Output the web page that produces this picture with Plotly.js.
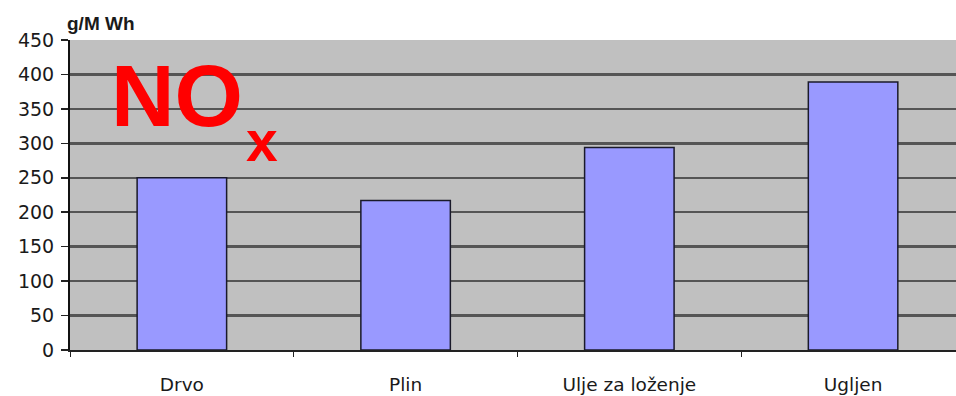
<!DOCTYPE html>
<html><head><meta charset="utf-8">
<script src="https://cdn.plot.ly/plotly-3.0.1.min.js"></script>
<style>html,body{margin:0;padding:0;background:#fff}#c{width:956px;height:396px}</style>
</head><body><div id="c"></div>
<script>
const categories = ["Drvo", "Plin", "Ulje za loženje", "Ugljen"];
const values = [250, 217, 294, 389];
const yTicks = [0, 50, 100, 150, 200, 250, 300, 350, 400, 450];
const gridTicks = [50, 100, 150, 200, 250, 300, 350, 400];
const unitLabel = "g/M Wh";

const font = "DejaVu Sans, Liberation Sans, Arial, sans-serif";
const afont = "Liberation Sans, Arial, sans-serif";
const trace = {
  type: "bar", x: categories, y: values,
  marker: {color: "#9999ff", line: {color: "#1a1a2a", width: 1.5}},
  width: 0.4, hoverinfo: "none"
};
const grid = {type: "scatter", x: [categories[0]], y: [0], yaxis: "y2", mode: "none", hoverinfo: "none", showlegend: false};
const layout = {
  width: 956, height: 396,
  margin: {l: 70, r: 0, t: 40, b: 46},
  paper_bgcolor: "#ffffff", plot_bgcolor: "#c0c0c0",
  showlegend: false, bargap: 0.6,
  font: {family: font, color: "#111", size: 15},
  xaxis: {
    type: "category", range: [-0.5, 3.46], fixedrange: true,
    showline: true, linecolor: "#222", linewidth: 2,
    ticks: "outside", tickson: "boundaries", ticklen: 5, tickcolor: "#222",
    ticklabelstandoff: 17, showgrid: false, zeroline: false,
    tickfont: {family: font, size: 18.5, color: "#1a1a1a"}
  },
  yaxis: {
    range: [0, 450], tickvals: yTicks, ticktext: yTicks.map(String),
    showline: true, linecolor: "#111", linewidth: 2,
    ticks: "outside", ticklen: 7, tickcolor: "#222", tickwidth: 1.5,
    showgrid: false, zeroline: false, ticklabelstandoff: 3,
    tickfont: {family: font, size: 19, color: "#1a1a1a"}
  },
  yaxis2: {
    overlaying: "y", range: [0, 450], tickvals: gridTicks, showticklabels: false,
    showgrid: true, gridcolor: "#555555", gridwidth: 2.5, zeroline: false, showline: false, ticks: ""
  },
  annotations: [
    {xref: "paper", yref: "paper", x: -0.006, y: 1, xanchor: "left", yanchor: "bottom", yshift: 4,
     text: "<b>" + unitLabel + "</b>", showarrow: false, font: {family: afont, size: 19, color: "#1a1a1a"}},
    {xref: "paper", yref: "paper", x: 0.044, y: 0.82, xanchor: "left", yanchor: "middle",
     text: "<b>NO</b>", showarrow: false, font: {family: afont, size: 88, color: "#ff0000"}},
    {xref: "paper", yref: "paper", x: 0.196, y: 0.675, xanchor: "left", yanchor: "middle",
     text: "<b>x</b>", showarrow: false, font: {family: afont, size: 57, color: "#ff0000"}}
  ]
};
Plotly.newPlot("c", [grid, trace], layout, {staticPlot: true, displayModeBar: false});
</script></body></html>
